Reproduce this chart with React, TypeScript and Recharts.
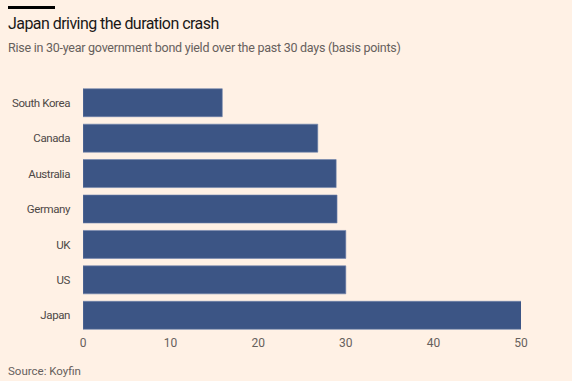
import { BarChart, Bar, XAxis, YAxis } from "recharts";

const countries = ["South Korea", "Canada", "Australia", "Germany", "UK", "US", "Japan"];
const riseBp = [15.9, 26.8, 28.9, 29.0, 30.0, 30.0, 50.1];
const xTicks = [0, 10, 20, 30, 40, 50];

const data = countries.map((name, i) => ({ name, value: riseBp[i] }));

const FONT = "Roboto, 'Noto Sans', sans-serif";

// single-line category label (default tick wraps "South Korea")
const CountryTick = ({ x, y, payload }: any) => (
  <text x={x} y={y} dy="0.355em" textAnchor="end" fontSize={11.5} letterSpacing={-0.4} fill="#4d4845" fontFamily={FONT}>
    {payload.value}
  </text>
);

const App = () => {
  return (
    <div
      style={{
        position: "absolute",
        left: 0,
        top: 0,
        width: 572,
        height: 381,
        background: "#fff1e5",
        fontFamily: FONT,
        overflow: "hidden",
      }}
    >
      <div style={{ position: "absolute", left: 8, top: 6, width: 47, height: 3, background: "#000" }} />
      <div
        style={{
          position: "absolute",
          left: 8,
          top: 14,
          fontSize: 16,
          color: "#1a1817",
          letterSpacing: -0.55,
          whiteSpace: "nowrap",
        }}
      >
        Japan driving the duration crash
      </div>
      <div
        style={{
          position: "absolute",
          left: 8,
          top: 40,
          fontSize: 12.5,
          color: "#66605c",
          letterSpacing: -0.25,
          whiteSpace: "nowrap",
        }}
      >
        Rise in 30-year government bond yield over the past 30 days (basis points)
      </div>
      <div style={{ position: "absolute", left: 0, top: 0 }}>
        <BarChart
          width={572}
          height={360}
          data={data}
          layout="vertical"
          margin={{ top: 85, right: 51, bottom: 7, left: 8 }}
          barCategoryGap="10.5%"
        >
          <XAxis
            type="number"
            domain={[0, 50]}
            ticks={xTicks}
            allowDataOverflow
            axisLine={false}
            tickLine={false}
            tickSize={0}
            tickMargin={5}
            height={20}
            tick={{ fontSize: 12, fill: "#66605c", fontFamily: FONT }}
          />
          <YAxis
            type="category"
            dataKey="name"
            width={75}
            axisLine={false}
            tickLine={false}
            tickSize={0}
            tickMargin={13}
            interval={0}
            tick={<CountryTick />}
          />
          <Bar dataKey="value" fill="#3c5585" stroke="#6f83ad" strokeWidth={0.6} isAnimationActive={false} />
        </BarChart>
      </div>
      <div
        style={{
          position: "absolute",
          left: 8,
          top: 364,
          fontSize: 11.5,
          color: "#66605c",
          whiteSpace: "nowrap",
        }}
      >
        Source: Koyfin
      </div>
    </div>
  );
};

export default App;
